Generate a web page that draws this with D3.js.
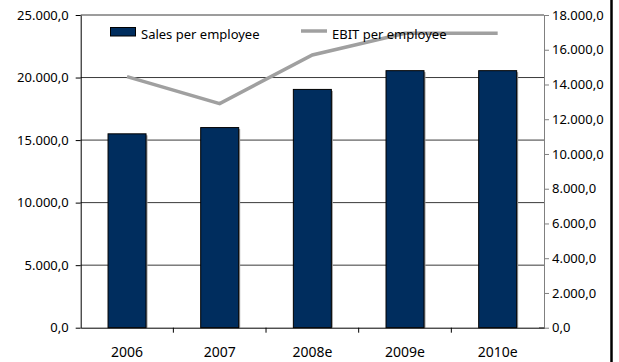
<!DOCTYPE html>
<html>
<head>
<meta charset="utf-8">
<script src="https://cdn.jsdelivr.net/npm/d3@7"></script>
<style>
  body { margin: 0; background: #fff; }
  text { font-family: "Noto Sans", sans-serif; font-size: 13px; fill: #000; }
</style>
</head>
<body>
<script>
"use strict";

// Chart data
const years = ["2006", "2007", "2008e", "2009e", "2010e"];
const salesPerEmployee = [15500, 16000, 19050, 20550, 20550];
const ebitPerEmployee = [14450, 12900, 15700, 16950, 16950];
const leftTicks = [0, 5000, 10000, 15000, 20000, 25000];
const rightTicks = [0, 2000, 4000, 6000, 8000, 10000, 12000, 14000, 16000, 18000];

const width = 619, height = 362;
const margin = {left: 80.7, right: 75, top: 15, bottom: 34.3};

// number format like "25.000,0"
const fmt = v => d3.format(",.1f")(v).replace(/,/g, "#").replace(".", ",").replace(/#/g, ".");

const svg = d3.select("body").append("svg")
    .attr("width", width)
    .attr("height", height);

const x = d3.scaleBand()
    .domain(years)
    .range([margin.left, width - margin.right])
    .paddingInner(0.59)
    .paddingOuter(0.295);

const yLeft = d3.scaleLinear()
    .domain([0, 25000])
    .range([height - margin.bottom, margin.top]);

const yRight = d3.scaleLinear()
    .domain([0, 18000])
    .range([height - margin.bottom, margin.top]);

const x0 = margin.left, x1 = width - margin.right;

// gridlines
svg.append("g")
  .selectAll("line")
  .data(leftTicks.filter(d => d > 0))
  .enter().append("line")
    .attr("x1", x0)
    .attr("x2", x1)
    .attr("y1", d => yLeft(d))
    .attr("y2", d => yLeft(d))
    .attr("stroke", "#3a3a3a")
    .attr("stroke-width", 1);

// bars (with a light shadow)
svg.append("g")
  .selectAll("rect")
  .data(years)
  .enter().append("rect")
    .attr("x", d => x(d) + 1.5)
    .attr("y", (d, i) => yLeft(salesPerEmployee[i]) + 1.5)
    .attr("width", x.bandwidth())
    .attr("height", (d, i) => yLeft(0) - yLeft(salesPerEmployee[i]) - 1.5)
    .attr("fill", "#9a9a9a");

svg.append("g")
  .selectAll("rect")
  .data(years)
  .enter().append("rect")
    .attr("x", d => x(d))
    .attr("y", (d, i) => yLeft(salesPerEmployee[i]))
    .attr("width", x.bandwidth())
    .attr("height", (d, i) => yLeft(0) - yLeft(salesPerEmployee[i]))
    .attr("fill", "#002d5e")
    .attr("stroke", "#000")
    .attr("stroke-width", 1);

// left axis
const leftAxis = d3.axisLeft(yLeft)
    .tickValues(leftTicks)
    .tickSizeInner(5)
    .tickSizeOuter(0)
    .tickPadding(7)
    .tickFormat(fmt);
const gl = svg.append("g")
    .attr("transform", `translate(${x0},0)`)
    .call(leftAxis);
gl.selectAll("path, line").attr("stroke", "#000");
gl.selectAll("text").style("font-family", "Noto Sans").style("font-size", "13px");

// right axis
const rightAxis = d3.axisRight(yRight)
    .tickValues(rightTicks)
    .tickSizeInner(5)
    .tickSizeOuter(0)
    .tickPadding(3)
    .tickFormat(fmt);
const gr = svg.append("g")
    .attr("transform", `translate(${x1},0)`)
    .call(rightAxis);
gr.selectAll("path, line").attr("stroke", "#808080");
gr.selectAll("text").style("font-family", "Noto Sans").style("font-size", "13px");
gr.append("line")
    .attr("x1", -5).attr("x2", 0)
    .attr("y1", yRight(0)).attr("y2", yRight(0))
    .attr("stroke", "#808080");

// x axis
const bottomAxis = d3.axisBottom(x)
    .tickSize(0)
    .tickPadding(19);
const gb = svg.append("g")
    .attr("transform", `translate(0,${yLeft(0)})`)
    .call(bottomAxis);
gb.select("path").attr("stroke", "#000");
gb.selectAll("text").style("font-family", "Noto Sans").style("font-size", "14px");
// ticks between categories
const step = x.step();
gb.selectAll(".sep")
  .data(years.slice(1))
  .enter().append("line")
    .attr("x1", d => x(d) - x.paddingInner() * step / 2)
    .attr("x2", d => x(d) - x.paddingInner() * step / 2)
    .attr("y1", 0)
    .attr("y2", 5)
    .attr("stroke", "#000");

// EBIT line
const line = d3.line()
    .x((d, i) => x(years[i]) + x.bandwidth() / 2)
    .y(d => yRight(d));
svg.append("path")
    .datum(ebitPerEmployee)
    .attr("d", line)
    .attr("fill", "none")
    .attr("stroke", "#a0a0a0")
    .attr("stroke-width", 3.5);

// legend
const legend = svg.append("g");
legend.append("rect")
    .attr("x", 110.5).attr("y", 27.5)
    .attr("width", 25).attr("height", 8.5)
    .attr("fill", "#002d5e")
    .attr("stroke", "#000")
    .attr("stroke-width", 1);
legend.append("text")
    .attr("x", 141).attr("y", 38.5)
    .text("Sales per employee");
legend.append("line")
    .attr("x1", 301).attr("x2", 327)
    .attr("y1", 31).attr("y2", 31)
    .attr("stroke", "#a0a0a0")
    .attr("stroke-width", 3.5);
legend.append("text")
    .attr("x", 332).attr("y", 38.5)
    .text("EBIT per employee");

// right border of chart frame
svg.append("line")
    .attr("x1", 611.5).attr("x2", 611.5)
    .attr("y1", 0).attr("y2", height)
    .attr("stroke", "#000")
    .attr("stroke-width", 2.5);
</script>
</body>
</html>
